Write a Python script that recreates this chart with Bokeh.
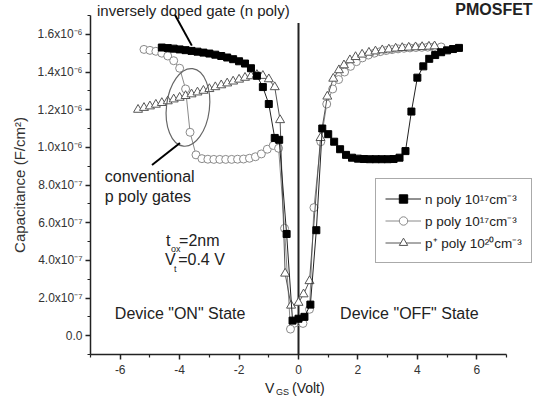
from bokeh.plotting import figure
from bokeh.models import Label, Legend, LegendItem, FixedTicker, Range1d
from bokeh.embed import file_html
from bokeh.resources import INLINE

# ---- data (capacitance in units of 1e-7 F/cm^2) ----
n_vgs = [-4.6, -4.4, -4.2, -4.0, -3.8, -3.6, -3.4, -3.2, -3.0, -2.8, -2.6, -2.4, -2.2, -2.0, -1.8, -1.6,
         -1.4, -1.2, -1.0, -0.8, -0.65, -0.4, -0.2, 0.0, 0.2, 0.4, 0.6, 0.8, 1.0, 1.2, 1.4, 1.6, 1.8,
         2.0, 2.2, 2.4, 2.6, 2.8, 3.0, 3.2, 3.4, 3.6, 3.8, 4.0, 4.2, 4.4, 4.6, 4.8, 5.0, 5.2, 5.4]
n_cap = [15.30, 15.27, 15.24, 15.20, 15.16, 15.12, 15.08, 15.03, 14.98, 14.92, 14.85, 14.77, 14.68,
         14.57, 14.45, 14.20, 13.80, 13.20, 12.30, 10.50, 10.40, 5.40, 0.80, 0.90, 1.00, 1.65, 5.60,
         11.00, 10.70, 10.30, 9.90, 9.60, 9.45, 9.40, 9.38, 9.37, 9.37, 9.37, 9.37, 9.38, 9.45, 9.80,
         11.90, 13.70, 14.30, 14.70, 14.90, 15.05, 15.15, 15.22, 15.28]

p_vgs = [-5.2, -5.0, -4.8, -4.6, -4.4, -4.2, -4.0, -3.8, -3.65, -3.45, -3.25, -3.05, -2.85, -2.65,
         -2.45, -2.25, -2.05, -1.85, -1.65, -1.45, -1.25, -1.05, -0.85, -0.67, -0.47, -0.27, 0.15,
         0.37, 0.52, 0.75, 0.95, 1.15, 1.35, 1.55, 1.75, 1.95, 2.15, 2.35, 2.55, 2.75, 2.95, 3.15,
         3.35, 3.55, 3.75, 3.95, 4.15, 4.35, 4.55, 4.8]
p_cap = [15.20, 15.15, 15.10, 15.00, 14.85, 14.60, 14.20, 13.10, 10.80, 9.60, 9.40, 9.37, 9.36, 9.36,
         9.36, 9.36, 9.37, 9.38, 9.42, 9.50, 9.65, 9.90, 10.10, 9.95, 5.70, 0.35, 0.65, 1.40, 6.80,
         10.30, 12.30, 13.10, 13.60, 14.00, 14.30, 14.55, 14.75, 14.90, 15.00, 15.08, 15.14, 15.19,
         15.23, 15.26, 15.28, 15.30, 15.31, 15.32, 15.33, 15.33]

pp_vgs = [-5.4, -5.2, -5.0, -4.8, -4.6, -4.4, -4.2, -4.0, -3.8, -3.6, -3.4, -3.2, -3.0, -2.8, -2.6,
          -2.4, -2.2, -2.0, -1.8, -1.6, -1.4, -1.2, -1.0, -0.8, -0.62, -0.45, -0.25, 0.0, 0.17, 0.37,
          0.74, 0.97, 1.17, 1.36, 1.53, 1.73, 1.92, 2.14, 2.37, 2.59, 2.82, 3.04, 3.27, 3.49, 3.71,
          3.94, 4.16, 4.39, 4.58]
pp_cap = [12.00, 12.10, 12.18, 12.27, 12.36, 12.45, 12.55, 12.64, 12.73, 12.82, 12.92, 13.01, 13.10,
          13.20, 13.30, 13.40, 13.50, 13.60, 13.70, 13.78, 13.85, 13.80, 13.62, 13.20, 11.45, 3.30,
          1.60, 1.75, 2.20, 2.90, 10.50, 12.70, 13.65, 14.10, 14.36, 14.63, 14.80, 14.93, 15.03,
          15.10, 15.16, 15.20, 15.25, 15.28, 15.30, 15.32, 15.33, 15.35, 15.37]

x_ticks = [-6, -4, -2, 0, 2, 4, 6]
x_tick_labels = ["-6", "-4", "-2", "0", "2", "4", "6"]
x_minor = [-7, -5, -3, -1, 1, 3, 5, 7]
y_ticks = [0, 2, 4, 6, 8, 10, 12, 14, 16]
y_tick_labels = ["0.0", "2.0x10\u207b\u2077", "4.0x10\u207b\u2077", "6.0x10\u207b\u2077", "8.0x10\u207b\u2077",
                 "1.0x10\u207b\u2076", "1.2x10\u207b\u2076", "1.4x10\u207b\u2076", "1.6x10\u207b\u2076"]
y_minor = [-1, 1, 3, 5, 7, 9, 11, 13, 15, 17]

series_labels = ["n poly 10\u00b9\u2077cm\u207b\u00b3", "p poly 10\u00b9\u2077cm\u207b\u00b3",
                 "p\u207a poly 10\u00b2\u2070cm\u207b\u00b3"]

FONT = "Liberation Sans"

# frame covers the whole canvas; the axes are pinned at x=-7 / y=-1
p = figure(width=535, height=397, output_backend="svg", toolbar_location=None,
           x_range=Range1d(-10.029, 7.976), y_range=Range1d(-3.283, 17.797),
           min_border_left=0, min_border_right=0, min_border_top=0, min_border_bottom=0)
p.outline_line_color = None
p.grid.visible = False
p.background_fill_color = "white"
p.border_fill_color = "white"

for ax in (p.xaxis, p.yaxis):
    ax.axis_line_color = "#222222"
    ax.axis_line_width = 1.5
    ax.major_tick_line_color = "#222222"
    ax.minor_tick_line_color = "#222222"
    ax.major_tick_line_width = 1.5
    ax.minor_tick_line_width = 1.2
    ax.major_tick_in = 0
    ax.major_tick_out = 5
    ax.minor_tick_in = 0
    ax.minor_tick_out = 3
    ax.major_label_text_font = FONT
    ax.major_label_text_font_size = "12px"
    ax.major_label_text_color = "#333333"

p.xaxis.fixed_location = -1
p.xaxis.bounds = (-7, 7)
p.yaxis.fixed_location = -7
p.yaxis.bounds = (-1, 17)

p.xaxis.ticker = FixedTicker(ticks=x_ticks, minor_ticks=x_minor)
p.xaxis.major_label_overrides = {t: l for t, l in zip(x_ticks, x_tick_labels)}
p.xaxis.major_label_standoff = 5
p.yaxis.ticker = FixedTicker(ticks=y_ticks, minor_ticks=y_minor)
p.yaxis.major_label_overrides = {t: l for t, l in zip(y_ticks, y_tick_labels)}
p.yaxis.major_label_standoff = 3
p.yaxis.axis_label = "Capacitance (F/cm\u00b2)"
p.yaxis.axis_label_text_font = FONT
p.yaxis.axis_label_text_font_size = "15px"
p.yaxis.axis_label_text_font_style = "normal"
p.yaxis.axis_label_text_color = "#333333"
p.yaxis.axis_label_standoff = 7

# vertical line at VGS = 0
p.segment(x0=[0], y0=[-1], x1=[0], y1=[16.6], line_color="#222222", line_width=2)

# series
l_p = p.line(p_vgs, p_cap, line_color="#8a8a8a", line_width=1)
s_p = p.scatter(p_vgs, p_cap, marker="circle", size=8, fill_color="white", line_color="#8a8a8a", line_width=1)
l_pp = p.line(pp_vgs, pp_cap, line_color="#555555", line_width=1)
s_pp = p.scatter(pp_vgs, pp_cap, marker="triangle", size=9, fill_color="white", line_color="#555555", line_width=1)
l_n = p.line(n_vgs, n_cap, line_color="#222222", line_width=1)
s_n = p.scatter(n_vgs, n_cap, marker="square", size=7, fill_color="black", line_color="black")

legend = Legend(items=[LegendItem(label=series_labels[0], renderers=[l_n, s_n]),
                       LegendItem(label=series_labels[1], renderers=[l_p, s_p]),
                       LegendItem(label=series_labels[2], renderers=[l_pp, s_pp])],
                location=(375, 134), border_line_color="#555555", border_line_width=1.5,
                padding=9, spacing=1, margin=0, glyph_width=36, glyph_height=21, label_height=21,
                label_standoff=4, label_text_font=FONT, label_text_font_size="13.5px",
                label_text_color="#222222", background_fill_alpha=1.0)
p.add_layout(legend, "center")

# annotations
p.line([-4.16, -3.59], [17.04, 15.40], line_color="black", line_width=2)
p.ellipse(x=[-3.72], y=[12.12], width=43, height=78, width_units="screen", height_units="screen",
          angle=-0.12, fill_color=None, line_color="#666666", line_width=1.2)
p.line([-3.99, -4.93], [10.23, 9.06], line_color="black", line_width=2)


def lab(x, y, text, size="16px", style="normal", align="left"):
    p.add_layout(Label(x=x, y=y, text=text, text_font=FONT, text_font_size=size,
                       text_font_style=style, text_color="#222222", text_baseline="middle",
                       text_align=align))


lab(-6.78, 17.25, "inversely doped gate (n poly)", "15px")
lab(7.88, 17.30, "PMOSFET", "16px", "bold", "right")
lab(-6.52, 8.47, "conventional", "16px")
lab(-6.52, 7.41, "p poly gates", "16px")
lab(-4.46, 5.07, "t", "16px")
lab(-4.29, 4.59, "ox", "9px")
lab(-4.02, 5.07, "=2nm", "16px")
lab(-4.49, 4.06, "V", "16px")
lab(-4.19, 3.55, "t", "9px")
lab(-4.05, 4.06, "=0.4 V", "16px")
lab(-6.18, 1.18, "Device \"ON\" State", "16px")
lab(1.40, 1.18, "Device \"OFF\" State", "16px")
lab(-1.13, -2.78, "V", "14px")
lab(-0.76, -3.00, "GS", "9px")
lab(-0.22, -2.78, "(Volt)", "14px")

open("out.html", "w").write(file_html(p, INLINE))
